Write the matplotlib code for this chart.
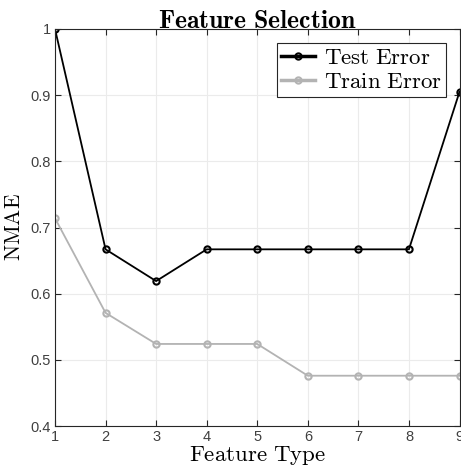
import matplotlib
matplotlib.use('Agg')
import matplotlib.pyplot as plt

feature_type = [1, 2, 3, 4, 5, 6, 7, 8, 9]
test_error = [1.0, 0.667, 0.619, 0.667, 0.667, 0.667, 0.667, 0.667, 0.905]
train_error = [0.714, 0.571, 0.524, 0.524, 0.524, 0.476, 0.476, 0.476, 0.476]

plt.rcParams['mathtext.fontset'] = 'cm'
plt.rcParams['font.family'] = ['Liberation Sans', 'DejaVu Sans']

fig = plt.figure(figsize=(4.61, 4.75), dpi=100)
ax = fig.add_axes([55 / 461, 1 - 426 / 475, 404.5 / 461, 397 / 475])

ax.plot(feature_type, test_error, color='black', lw=1.3, marker='o', ms=4.5,
        mfc='none', mew=1.5, label=r'$\mathrm{Test\ Error}$')
ax.plot(feature_type, train_error, color='#b3b3b3', lw=1.3, marker='o', ms=4.5,
        mfc='none', mew=1.5, label=r'$\mathrm{Train\ Error}$')

ax.set_xlim(1, 9)
ax.set_ylim(0.4, 1.0)
ax.set_xticks(feature_type)
ax.set_yticks([0.4, 0.5, 0.6, 0.7, 0.8, 0.9, 1.0])
ax.set_yticklabels(['0.4', '0.5', '0.6', '0.7', '0.8', '0.9', '1'])
ax.grid(True, color='#ebebeb', lw=0.8)
ax.set_axisbelow(True)
ax.tick_params(direction='in', top=True, right=True, labelsize=10.5,
               colors='#262626', length=4, pad=3)
for label in ax.get_xticklabels() + ax.get_yticklabels():
    label.set_color('#404040')
for side in ax.spines.values():
    side.set_color('#262626')
    side.set_linewidth(0.8)

ax.set_title(r'$\mathbf{Feature\ Selection}$', fontsize=18.5, pad=1)
ax.set_xlabel(r'$\mathrm{Feature\ Type}$', fontsize=16.5, labelpad=0)
ax.set_ylabel(r'$\mathrm{NMAE}$', fontsize=15.5, labelpad=4)

leg = ax.legend(loc='upper right', fontsize=16.5, fancybox=False, framealpha=1,
                edgecolor='#262626', borderpad=0.15, handlelength=1.5,
                handletextpad=0.4, labelspacing=0.05, borderaxespad=0.6)
leg.get_frame().set_linewidth(0.8)
for line in leg.get_lines():
    line.set_linewidth(2.5)

fig.savefig('out.png', dpi=100)
